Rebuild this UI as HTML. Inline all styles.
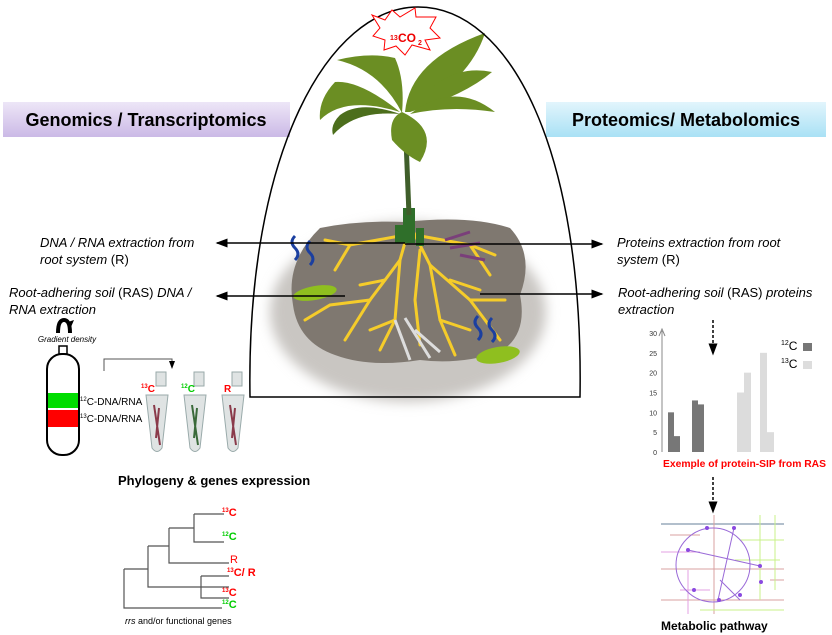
<!DOCTYPE html>
<html><head><meta charset="utf-8"><style>
body{margin:0;background:#fff;width:832px;height:635px;overflow:hidden;font-family:"Liberation Sans",sans-serif}
svg{display:block}
</style></head><body>
<svg width="832" height="635" viewBox="0 0 832 635" xmlns="http://www.w3.org/2000/svg" font-family="Liberation Sans, sans-serif">
<defs>
<linearGradient id="lav" x1="0" y1="0" x2="0" y2="1"><stop offset="0" stop-color="#ede6f7"/><stop offset="1" stop-color="#cbb9e6"/></linearGradient>
<linearGradient id="blu" x1="0" y1="0" x2="0" y2="1"><stop offset="0" stop-color="#e2f5fc"/><stop offset="1" stop-color="#a9e1f5"/></linearGradient>
<marker id="ah" markerWidth="8" markerHeight="8" refX="7" refY="4" orient="auto"><path d="M0,1 L8,4 L0,7Z" fill="#000"/></marker>
<filter id="blur"><feGaussianBlur stdDeviation="6"/></filter>
</defs>

<g>
<rect x="3" y="102" width="287" height="35" fill="url(#lav)"/>
<text x="146" y="126" font-size="18" font-weight="bold" text-anchor="middle">Genomics / Transcriptomics</text>
</g>
<g>
<rect x="546" y="102" width="280" height="35" fill="url(#blu)"/>
<text x="686" y="126" font-size="18" font-weight="bold" text-anchor="middle">Proteomics/ Metabolomics</text>
</g>

<g>
<ellipse cx="408" cy="312" rx="138" ry="90" fill="#c9c6c2" filter="url(#blur)"/>
<path d="M320,228 Q360,220 405,222 Q470,215 510,228 Q535,255 520,295 Q528,335 500,352 Q460,365 420,360 Q370,368 335,355 Q298,342 293,305 Q285,262 320,228Z" fill="#7f7870"/>
<g stroke="#f5cc2a" stroke-width="3" fill="none" stroke-linecap="round">
<path d="M410,225 L400,260 L370,300 L345,340"/><path d="M410,225 L430,265 L470,300 L500,340"/>
<path d="M405,235 L350,245 L325,240"/><path d="M415,235 L470,245 L495,255"/>
<path d="M400,260 L395,320 L380,350"/><path d="M430,265 L440,320 L455,355"/>
<path d="M370,300 L330,305 L305,320"/><path d="M470,300 L505,300"/>
<path d="M420,250 L415,300 L420,345"/><path d="M350,245 L335,270"/><path d="M470,245 L490,275"/>
<path d="M385,280 L360,285 M450,280 L480,290 M395,320 L370,330 M440,320 L470,330"/>
</g>
<g fill="#2f6f2a"><rect x="403" y="208" width="12" height="35"/><rect x="395" y="225" width="8" height="18"/><rect x="416" y="228" width="8" height="18"/></g>
<path d="M295,260 q6,-6 0,-12 q-6,-6 0,-12 M310,265 q6,-6 0,-12 q-6,-6 0,-12" stroke="#1b3fa0" stroke-width="3" fill="none"/>
<path d="M478,340 q6,-6 0,-12 q-6,-6 0,-12 M492,342 q6,-6 0,-12 q-6,-6 0,-12" stroke="#1b3fa0" stroke-width="3" fill="none"/>
<ellipse cx="315" cy="293" rx="22" ry="7" fill="#8fbf1f" transform="rotate(-10 315 293)"/>
<ellipse cx="498" cy="355" rx="22" ry="8" fill="#8fbf1f" transform="rotate(-10 498 355)"/>
<path d="M445,240 l25,-8 M450,248 l30,-5 M460,255 l25,5" stroke="#7a3f7a" stroke-width="3"/>
<path d="M395,320 l15,40 M405,318 l25,40 M415,330 l25,22" stroke="#ddd" stroke-width="3"/>
</g>

<g fill="#6b8e23">
<path d="M405,115 L409,215" stroke="#3f5e2a" stroke-width="5" fill="none"/>
<path d="M402,113 Q380,70 337,60 Q370,52 395,58 Q405,80 402,113Z"/>
<path d="M400,112 Q360,80 335,82 Q318,100 320,120 Q345,95 400,112Z"/>
<path d="M400,114 Q360,100 340,115 Q330,125 333,135 Q355,110 400,114Z" fill="#4c6e1c"/>
<path d="M402,112 Q388,118 392,140 Q405,155 420,162 Q440,130 402,112Z"/>
<path d="M405,112 Q410,60 485,33 Q470,80 410,112Z"/>
<path d="M410,112 Q445,62 492,72 Q465,95 410,112Z"/>
<path d="M410,114 Q455,80 495,112 Q450,105 410,114Z"/>
</g>

<path d="M250,397 C246,150 330,7 418,7 C510,7 584,150 580,397 Z" fill="none" stroke="#000" stroke-width="1.5"/>

<g>
<path d="M372,15 L385,20 L392,10 L400,17 L415,8 L416,17 L436,17 L430,28 L440,38 L425,40 L430,50 L412,45 L405,55 L396,46 L384,50 L385,40 L373,36 L380,28Z" fill="#fff" stroke="#f00" stroke-width="1"/>
<text x="390" y="40" font-size="7" font-weight="bold" fill="#e00">13</text>
<text x="398" y="42" font-size="12" font-weight="bold" fill="#e00">CO</text>
<text x="418" y="45" font-size="7" font-weight="bold" fill="#e00">2</text>
</g>

<g stroke="#000" stroke-width="1.5">
<line x1="405" y1="243" x2="217" y2="243" marker-end="url(#ah)"/>
<line x1="405" y1="244" x2="602" y2="244" marker-end="url(#ah)"/>
<line x1="345" y1="296" x2="217" y2="296" marker-end="url(#ah)"/>
<line x1="480" y1="294" x2="602" y2="294" marker-end="url(#ah)"/>
</g>

<g font-size="13" font-style="italic">
<text x="40" y="247">DNA / RNA extraction from</text>
<text x="40" y="264">root system <tspan font-style="normal">(R)</tspan></text>
<text x="9" y="297">Root-adhering soil <tspan font-style="normal">(RAS)</tspan> DNA /</text>
<text x="9" y="314">RNA extraction</text>
</g>
<g font-size="13" font-style="italic">
<text x="617" y="247">Proteins extraction from root</text>
<text x="617" y="264">system <tspan font-style="normal">(R)</tspan></text>
<text x="618" y="297">Root-adhering soil <tspan font-style="normal">(RAS)</tspan> proteins</text>
<text x="618" y="314">extraction</text>
</g>

<g>
<path d="M58,333 Q58,320 64,320 Q70,320 70,333" stroke="#000" stroke-width="4" fill="none"/>
<path d="M68,322 l6,-2 l-3,7z" fill="#000"/>
<text x="67" y="342" font-size="8" font-style="italic" text-anchor="middle">Gradient density</text>
<rect x="59" y="346" width="8" height="8" fill="#fff" stroke="#000" stroke-width="1.5"/>
<rect x="47" y="354" width="32" height="101" rx="15" fill="#fff" stroke="#000" stroke-width="2"/>
<rect x="48" y="393" width="30" height="15" fill="#0d0"/>
<rect x="48" y="410" width="30" height="17" fill="#f00"/>
<text x="80" y="405" font-size="10"><tspan font-size="6" dy="-4">12</tspan><tspan dy="4">C-DNA/RNA</tspan></text>
<text x="80" y="422" font-size="10"><tspan font-size="6" dy="-4">13</tspan><tspan dy="4">C-DNA/RNA</tspan></text>
</g>
<path d="M104,371 L104,359 L172,359 L172,368" stroke="#555" fill="none" marker-end="url(#ah)"/>

<g>
<g fill="#dfe3e3" stroke="#9aa" stroke-width="1">
<path d="M146,395 L168,395 L162,448 Q157,455 152,448Z"/>
<path d="M184,395 L206,395 L200,448 Q195,455 190,448Z"/>
<path d="M222,395 L244,395 L238,448 Q233,455 228,448Z"/>
<rect x="156" y="372" width="10" height="14"/><rect x="194" y="372" width="10" height="14"/><rect x="232" y="372" width="10" height="14"/>
</g>
<path d="M154,405 l6,40 M159,408 l-3,30" stroke="#8a3a4a" stroke-width="2"/>
<path d="M192,405 l6,40 M197,408 l-3,30" stroke="#3a6a3a" stroke-width="2"/>
<path d="M230,405 l6,40 M235,408 l-3,30" stroke="#8a3a4a" stroke-width="2"/>
<text x="141" y="392" font-size="10" font-weight="bold" fill="#f00"><tspan font-size="6" dy="-4">13</tspan><tspan dy="4">C</tspan></text>
<text x="181" y="392" font-size="10" font-weight="bold" fill="#0c0"><tspan font-size="6" dy="-4">12</tspan><tspan dy="4">C</tspan></text>
<text x="224" y="392" font-size="10" font-weight="bold" fill="#f00">R</text>
</g>
<text x="118" y="485" font-size="13" font-weight="bold">Phylogeny &amp; genes expression</text>

<g stroke="#555" stroke-width="1.2" fill="none">
<path d="M194,514 L224,514 M194,514 L194,542 L224,542"/>
<path d="M169,528 L194,528 M169,528 L169,563 L229,563"/>
<path d="M148,546 L169,546 M148,546 L148,587 L229,587"/>
<path d="M201,576 L229,576 M201,576 L201,598 L229,598"/>
<path d="M124,569 L148,569 M124,569 L124,608 L222,608"/>
</g>
<g font-size="11" font-weight="bold">
<text x="222" y="516" fill="#f00"><tspan font-size="6" dy="-4">13</tspan><tspan dy="4">C</tspan></text>
<text x="222" y="540" fill="#0c0"><tspan font-size="6" dy="-4">12</tspan><tspan dy="4">C</tspan></text>
<text x="230" y="563" fill="#f00" font-weight="normal">R</text>
<text x="227" y="576" fill="#f00"><tspan font-size="6" dy="-4">13</tspan><tspan dy="4">C/ R</tspan></text>
<text x="222" y="596" fill="#f00"><tspan font-size="6" dy="-4">13</tspan><tspan dy="4">C</tspan></text>
<text x="222" y="608" fill="#0c0"><tspan font-size="6" dy="-4">12</tspan><tspan dy="4">C</tspan></text>
</g>
<text x="125" y="624" font-size="9"><tspan font-style="italic">rrs</tspan> and/or functional genes</text>

<g id="chart"></g>
<line x1="713" y1="320" x2="713" y2="354" stroke="#000" stroke-width="1.5" stroke-dasharray="3,2" marker-end="url(#ah)"/>
<text x="663" y="467" font-size="10" font-weight="bold" fill="#f00" textLength="163" lengthAdjust="spacingAndGlyphs">Exemple of protein-SIP from RAS</text>
<g>
<text x="781" y="350" font-size="12"><tspan font-size="7" dy="-5">12</tspan><tspan dy="5">C</tspan></text>
<rect x="803" y="343" width="9" height="8" fill="#777"/>
<text x="781" y="368" font-size="12"><tspan font-size="7" dy="-5">13</tspan><tspan dy="5">C</tspan></text>
<rect x="803" y="361" width="9" height="8" fill="#ddd"/>
</g>
<line x1="713" y1="477" x2="713" y2="512" stroke="#000" stroke-width="1.5" stroke-dasharray="3,2" marker-end="url(#ah)"/>

<g fill="none" stroke-width="1">
<rect x="661" y="515" width="123" height="99" fill="#fff"/>
<line x1="661" y1="524" x2="784" y2="524" stroke="#9ab" stroke-width="1.5"/>
<g stroke="#d9a0a0"><path d="M661,569 L784,569 M661,600 L784,600 M714,515 L714,614 M670,535 L700,535 M770,580 L784,580"/></g>
<g stroke="#c8f08a"><path d="M740,540 L784,540 M735,560 L780,560 M700,610 L784,610 M760,515 L760,600 M775,515 L775,590"/></g>
<g stroke="#e3a0e3"><path d="M661,552 L700,552 M688,570 L688,614 M680,590 L710,590"/></g>
<circle cx="713" cy="565" r="37" stroke="#9a6ad8"/>
<path d="M688,550 L760,566 M734,528 L718,600 M720,580 L740,600" stroke="#9a6ad8"/>
<g fill="#8a4ae0"><circle cx="707" cy="528" r="2"/><circle cx="734" cy="528" r="2"/><circle cx="688" cy="550" r="2"/><circle cx="760" cy="566" r="2"/><circle cx="761" cy="582" r="2"/><circle cx="694" cy="590" r="2"/><circle cx="719" cy="600" r="2"/><circle cx="740" cy="595" r="2"/></g>
</g>
<text x="661" y="630" font-size="12" font-weight="bold">Metabolic pathway</text>

<script>
const ticks=[0,5,10,15,20,25,30];
const bars12=[10,4,13,12];
const bars13=[15,20,25,5];
const ns="http://www.w3.org/2000/svg";
const g=document.getElementById('chart');
const y0=452, ppu=(452-333)/30;
function Y(v){return y0-v*ppu;}
function X12(i){return 668+Math.floor(i/2)*24+(i%2)*6;}
function X13(i){return 737+Math.floor(i/2)*23+(i%2)*7;}
function mk(t,a){const e=document.createElementNS(ns,t);for(const k in a)e.setAttribute(k,a[k]);g.appendChild(e);return e;}
const ax=mk('line',{x1:662,y1:y0,x2:662,y2:331,stroke:'#888','stroke-width':1});


mk('path',{d:'M659,336 L662,329 L665,336',stroke:'#888',fill:'none'});
ticks.forEach(t=>{const e=mk('text',{x:657,y:Y(t)+3,'font-size':7,'text-anchor':'end',fill:'#333'});e.textContent=t;

});
bars12.forEach((v,i)=>{const r=mk('rect',{x:X12(i),y:Y(v),width:6,height:v*ppu,fill:'#777'});

});
bars13.forEach((v,i)=>{const r=mk('rect',{x:X13(i),y:Y(v),width:7,height:v*ppu,fill:'#dcdcdc'});

});
</script>
</svg>
</body></html>
